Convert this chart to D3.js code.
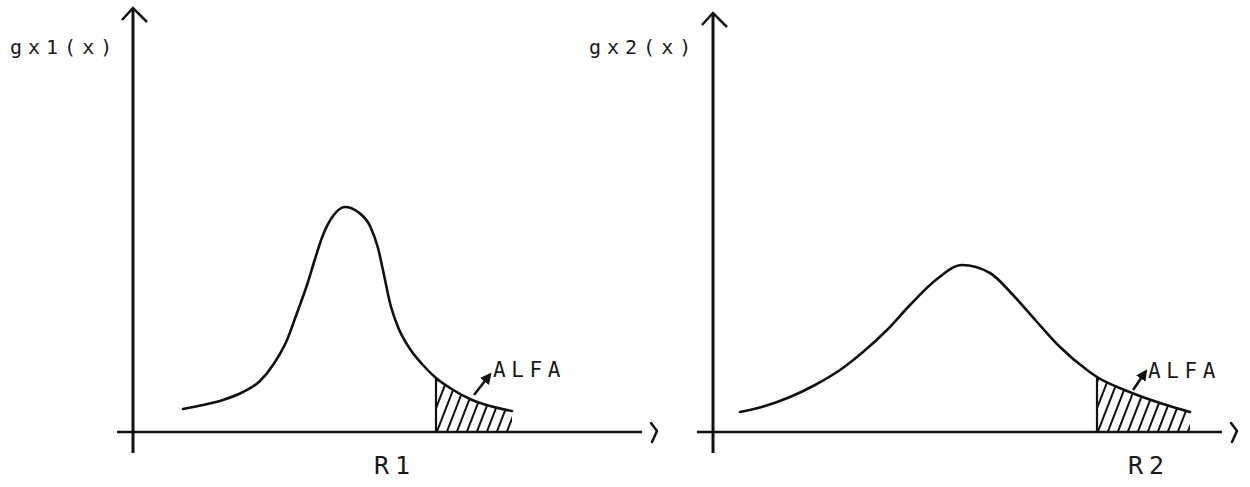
<!DOCTYPE html>
<html>
<head>
<meta charset="utf-8">
<script src="https://cdn.jsdelivr.net/npm/d3@7"></script>
<style>
  body { margin: 0; background: #fff; }
  text { font-family: "DejaVu Sans Mono", monospace; fill: #1a1a1a; }
</style>
</head>
<body>
<script>
const width = 1250;
const height = 487;

// left curve gx1(x) (x and y in 0..100 units)
const curve1X = [10, 14, 18, 22, 25.4, 28, 30.8, 32.8, 34.8, 36.4, 38, 40, 42.4, 45, 47.4, 49, 50.2, 51.4, 53, 55.4, 57.8, 60.6, 63.4, 67.4, 71.4, 75.8];
const curve1Y = [5.75, 6.75, 8, 10, 12.75, 16.75, 23, 29.75, 36.75, 43.25, 49.25, 54, 56.25, 55, 51.5, 46, 39.25, 32.25, 26.25, 20.75, 17, 13.5, 11, 8.25, 6.5, 5.25];

// right curve gx2(x)
const curve2X = [5.4, 10.4, 15.4, 20.4, 25.4, 30, 34.8, 39.4, 44.8, 49.8, 55.4, 60, 64.8, 69.4, 74.8, 76.8, 82.8, 89.4, 95.4];
const curve2Y = [5, 6.5, 8.75, 11.75, 15.5, 20, 25.5, 31.75, 38.25, 41.75, 39.75, 34.25, 27.5, 21.25, 15.5, 13.75, 10.25, 7.25, 5];

const panelLabels = ["gx1(x)", "gx2(x)"];
const regionLabels = ["R1", "R2"];
const regionLabelX = [51.6, 86.4];
const hatchStart = [60.6, 76.8];
const alfaLabel = "ALFA";

const svg = d3.select("body").append("svg")
    .attr("width", width)
    .attr("height", height);

// panel layout
const panels = [
    { xs: curve1X, ys: curve1Y, left: 133, top: 106, arrow: [[68.2, 9.25], [71, 13.75]], alfa: [72, 13.75], labelEnd: 118 },
    { xs: curve2X, ys: curve2Y, left: 713, top: 104.75, arrow: [[84, 10.5], [86.2, 14.5]], alfa: [87, 13.5], labelEnd: 697 }
];

const defs = svg.append("defs");
defs.append("marker")
    .attr("id", "head")
    .attr("viewBox", "0 0 10 10")
    .attr("refX", 5).attr("refY", 5)
    .attr("markerWidth", 4.5).attr("markerHeight", 4.5)
    .attr("orient", "auto")
    .append("path")
    .attr("d", "M0,0 L10,5 L0,10 z")
    .attr("fill", "#111");

panels.forEach(function (p, i) {
    const x = d3.scaleLinear().domain([0, 100]).range([p.left, p.left + 500]);
    const y = d3.scaleLinear().domain([0, 100]).range([432, 32]);
    const g = svg.append("g");
    const pts = p.xs.map((d, k) => [d, p.ys[k]]);

    // y axis with open arrow head
    g.append("line")
        .attr("x1", x(0)).attr("x2", x(0))
        .attr("y1", y(-5.25)).attr("y2", y(p.top))
        .attr("stroke", "#111").attr("stroke-width", 3);
    g.append("path")
        .attr("d", `M${x(0) - 11},${y(p.top) + 12} L${x(0)},${y(p.top)} L${x(0) + 14},${y(p.top) + 14}`)
        .attr("fill", "none").attr("stroke", "#111").attr("stroke-width", 2.5);

    // x axis and its ">" end
    g.append("line")
        .attr("x1", x(-3.2)).attr("x2", x(101.8))
        .attr("y1", y(0)).attr("y2", y(0))
        .attr("stroke", "#111").attr("stroke-width", 2.6);
    g.append("path")
        .attr("d", `M${x(101.8) + 9},${y(0) - 9} L${x(101.8) + 15},${y(0) - 1} L${x(101.8) + 10},${y(0) + 10}`)
        .attr("fill", "none").attr("stroke", "#111").attr("stroke-width", 2.5)
        .attr("stroke-linejoin", "round").attr("stroke-linecap", "round");

    // hatched tail
    const area = d3.area().curve(d3.curveMonotoneX)
        .x(d => x(d[0])).y0(y(0)).y1(d => y(d[1]));
    defs.append("clipPath").attr("id", "under" + i)
        .append("path").attr("d", area(pts));
    defs.append("clipPath").attr("id", "tail" + i)
        .append("rect")
        .attr("x", x(hatchStart[i])).attr("y", 0)
        .attr("width", 300).attr("height", y(0));
    const hatch = g.append("g").attr("clip-path", `url(#under${i})`)
        .append("g").attr("clip-path", `url(#tail${i})`);
    hatch.selectAll("line")
        .data(d3.range(x(hatchStart[i]) - 30, x(d3.max(p.xs)) + 10, 10))
        .enter().append("line")
        .attr("x1", d => d).attr("y1", y(0) + 2)
        .attr("x2", d => d + 24).attr("y2", y(0) - 60)
        .attr("stroke", "#111").attr("stroke-width", 2);
    const hi = p.xs.indexOf(hatchStart[i]);
    g.append("line")
        .attr("x1", x(hatchStart[i])).attr("x2", x(hatchStart[i]))
        .attr("y1", y(0)).attr("y2", y(p.ys[hi]))
        .attr("stroke", "#111").attr("stroke-width", 2.2);

    // the density curve
    g.append("path")
        .attr("d", d3.line().curve(d3.curveMonotoneX).x(d => x(d[0])).y(d => y(d[1]))(pts))
        .attr("fill", "none").attr("stroke", "#111").attr("stroke-width", 2.6)
        .attr("stroke-linecap", "round");

    // ALFA pointer
    g.append("line")
        .attr("x1", x(p.arrow[0][0])).attr("y1", y(p.arrow[0][1]))
        .attr("x2", x(p.arrow[1][0])).attr("y2", y(p.arrow[1][1]))
        .attr("stroke", "#111").attr("stroke-width", 2.5)
        .attr("marker-end", "url(#head)");
    g.append("text")
        .attr("x", x(p.alfa[0])).attr("y", y(p.alfa[1]))
        .attr("font-size", 21).attr("letter-spacing", 5.6)
        .text(alfaLabel);

    // labels
    g.append("text")
        .attr("x", p.labelEnd - 108).attr("y", 54)
        .attr("font-size", 20).attr("letter-spacing", 6)
        .text(panelLabels[i]);
    g.append("text")
        .attr("x", x(regionLabelX[i]) - 17).attr("y", 474)
        .attr("font-size", 25).attr("letter-spacing", 6)
        .text(regionLabels[i]);
});
</script>
</body>
</html>
